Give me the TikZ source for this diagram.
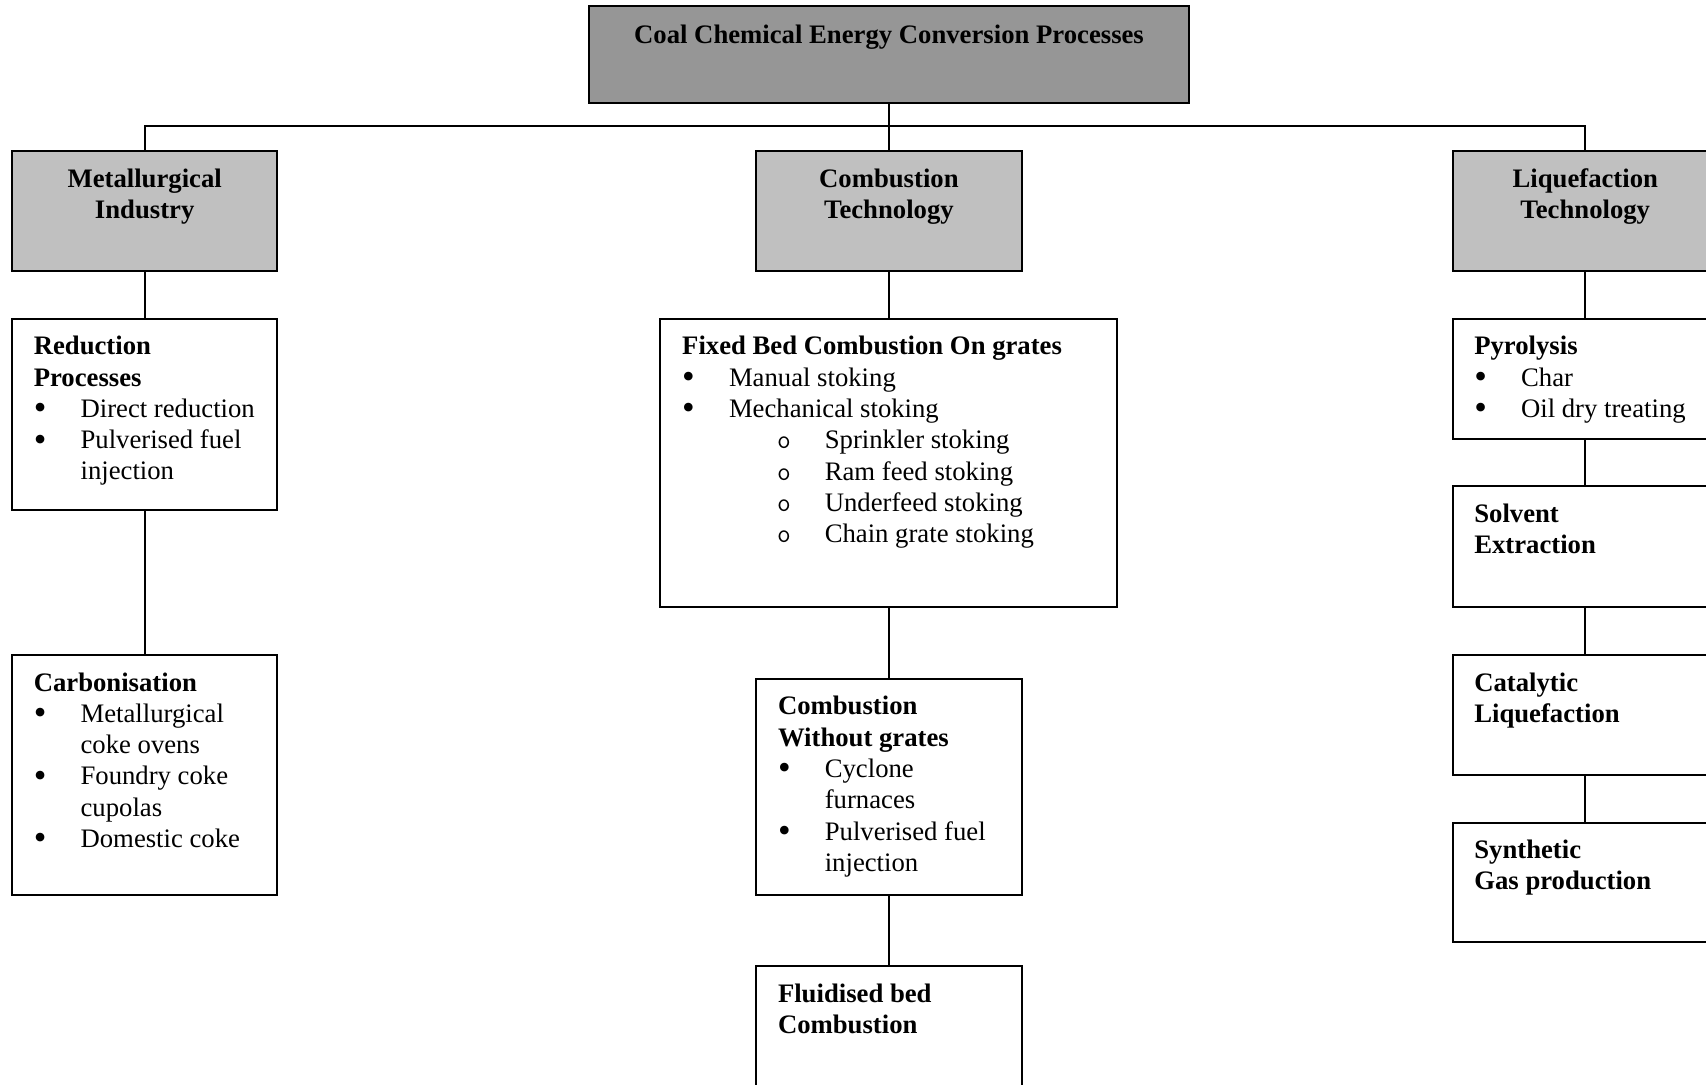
\documentclass[tikz,border=0pt]{standalone}
\usepackage{fontspec}
\usepackage{graphicx}
\setmainfont{Liberation Serif}
\usetikzlibrary{fit}

\definecolor{headdark}{RGB}{150,150,150}
\definecolor{headlight}{RGB}{192,192,192}

% list helpers: bullet item, circle sub-item, wrapped continuation
\newcommand{\bigbullet}{\raisebox{-0.09em}{\scalebox{1.35}{\textbullet}}}
\newcommand{\bitem}[1]{\makebox[23.4pt][l]{\bigbullet}#1}
\newcommand{\oitem}[1]{\hspace*{47.5pt}\makebox[23.8pt][l]{\ttfamily o}#1}
\newcommand{\cont}[1]{\hspace*{23.4pt}#1}
\newcommand{\boxtext}[1]{\parbox[t]{230pt}{\raggedright #1}}
\newcommand{\headtext}[2]{\parbox[t]{#1}{\centering\bfseries #2}}

\begin{document}
\begin{tikzpicture}[x=0.5pt,y=-0.5pt,
  every node/.style={font=\fontsize{13.35}{15.65}\selectfont},
  box/.style={draw, line width=1pt, inner sep=0pt, outer sep=0pt, fill=white},
  darkbox/.style={box, fill=headdark},
  lightbox/.style={box, fill=headlight},
  txt/.style={inner sep=0pt, outer sep=0pt, anchor=base west},
  htxt/.style={inner sep=0pt, outer sep=0pt, anchor=base},
  link/.style={line width=0.8pt}]

\useasboundingbox (0,0) rectangle (1706,1085);
\fill[white] (0,0) rectangle (1706,1085);
\clip (0,0) rectangle (1706,1085);

% boxes
\node[darkbox, fit={(589,6.5) (1189,103.4)}] (top) {};
\node[lightbox, fit={(12,151.2) (277.4,270.9)}] (met) {};
\node[lightbox, fit={(756.2,151.2) (1021.6,270.9)}] (cmb) {};
\node[lightbox, fit={(1452.5,151.2) (1718,270.9)}] (liq) {};

\node[box, fit={(12,318.8) (277.4,510.3)}] (red) {};
\node[box, fit={(12,655) (277.4,895.4)}] (carb) {};

\node[box, fit={(660.4,318.8) (1117.4,607.1)}] (fix) {};
\node[box, fit={(756.2,678.9) (1021.6,895.4)}] (wog) {};
\node[box, fit={(756.2,966.1) (1021.6,1110)}] (flu) {};

\node[box, fit={(1452.5,318.8) (1718,438.5)}] (pyr) {};
\node[box, fit={(1452.5,486.3) (1718,607.1)}] (sol) {};
\node[box, fit={(1452.5,655) (1718,774.7)}] (cat) {};
\node[box, fit={(1452.5,822.5) (1718,942.2)}] (syn) {};

% connectors
\coordinate (bus) at (0,126.2);
\draw[link] (top.south) -- (top.south |- bus);
\draw[link] (met.north) -- (met.north |- bus) -- (liq.north |- bus) -- (liq.north);
\draw[link] (cmb.north) -- (cmb.north |- bus);
\draw[link] (met.south) -- (red.north);
\draw[link] (red.south) -- (carb.north);
\draw[link] (cmb.south) -- (fix.north);
\draw[link] (fix.south) -- (wog.north);
\draw[link] (wog.south) -- (flu.north);
\draw[link] (liq.south) -- (pyr.north);
\draw[link] (pyr.south) -- (sol.north);
\draw[link] (sol.south) -- (cat.north);
\draw[link] (cat.south) -- (syn.north);

% headings
\node[htxt] (topT) at ([yshift=-18.5pt]top.north)
  {\headtext{290pt}{Coal Chemical Energy Conversion Processes}};
\node[htxt] (metT) at ([yshift=-18pt]met.north) {\headtext{130pt}{Metallurgical\\Industry}};
\node[htxt] (cmbT) at ([yshift=-18pt]cmb.north) {\headtext{130pt}{Combustion\\Technology}};
\node[htxt] (liqT) at ([yshift=-18pt]liq.north) {\headtext{130pt}{Liquefaction\\Technology}};

% box contents
\node[txt] (redT) at ([shift={(21.8,36)}]red.north west) {\boxtext{%
  \textbf{Reduction}\\ \textbf{Processes}\\
  \bitem{Direct reduction}\\ \bitem{Pulverised fuel}\\ \cont{injection}}};
\node[txt] (carbT) at ([shift={(21.8,36)}]carb.north west) {\boxtext{%
  \textbf{Carbonisation}\\
  \bitem{Metallurgical}\\ \cont{coke ovens}\\
  \bitem{Foundry coke}\\ \cont{cupolas}\\
  \bitem{Domestic coke}}};
\node[txt] (fixT) at ([shift={(21.8,36)}]fix.north west) {\boxtext{%
  \textbf{Fixed Bed Combustion On grates}\\
  \bitem{Manual stoking}\\ \bitem{Mechanical stoking}\\
  \oitem{Sprinkler stoking}\\ \oitem{Ram feed stoking}\\
  \oitem{Underfeed stoking}\\ \oitem{Chain grate stoking}}};
\node[txt] (wogT) at ([shift={(21.8,36)}]wog.north west) {\boxtext{%
  \textbf{Combustion}\\ \textbf{Without grates}\\
  \bitem{Cyclone}\\ \cont{furnaces}\\
  \bitem{Pulverised fuel}\\ \cont{injection}}};
\node[txt] (fluT) at ([shift={(21.8,36)}]flu.north west) {\boxtext{%
  \textbf{Fluidised bed}\\ \textbf{Combustion}}};
\node[txt] (pyrT) at ([shift={(21.8,36)}]pyr.north west) {\boxtext{%
  \textbf{Pyrolysis}\\ \bitem{Char}\\ \bitem{Oil dry treating}}};
\node[txt] (solT) at ([shift={(21.8,36)}]sol.north west) {\boxtext{%
  \textbf{Solvent}\\ \textbf{Extraction}}};
\node[txt] (catT) at ([shift={(21.8,36)}]cat.north west) {\boxtext{%
  \textbf{Catalytic}\\ \textbf{Liquefaction}}};
\node[txt] (synT) at ([shift={(21.8,36)}]syn.north west) {\boxtext{%
  \textbf{Synthetic}\\ \textbf{Gas production}}};
\end{tikzpicture}
\end{document}
